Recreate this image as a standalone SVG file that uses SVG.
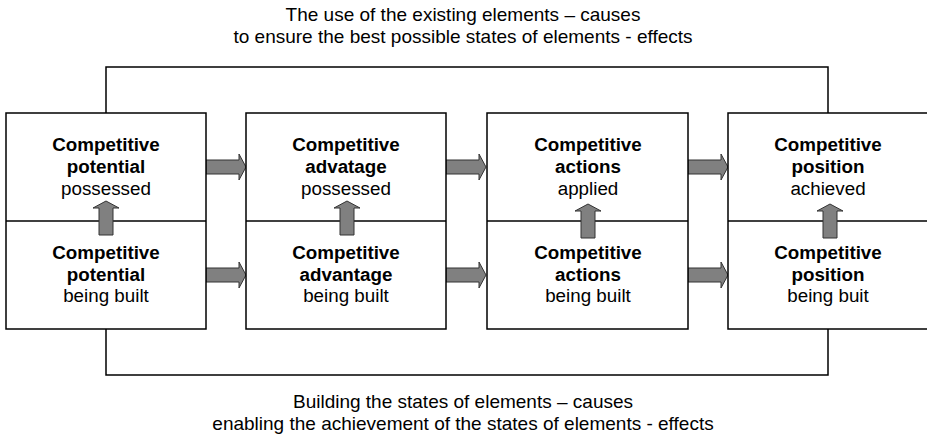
<svg xmlns="http://www.w3.org/2000/svg" xmlns:xlink="http://www.w3.org/1999/xlink" width="927" height="436" viewBox="0 0 927 436">
  <style>
    .box { fill: #ffffff; stroke: #000000; stroke-width: 1.5; }
    .line { fill: none; stroke: #000000; stroke-width: 1.5; }
    .arrow { fill: #808080; stroke: #333333; stroke-width: 1; }
    text { font-family: "Liberation Sans", Arial, sans-serif; fill: #000000; text-anchor: middle; }
    .b { font-size: 18.8px; font-weight: bold; }
    .n { font-size: 18.8px; }
    .cap { font-size: 19px; }
  </style>
  <defs>
    <!-- block arrow pointing right, tail at origin -->
    <path id="arrow-right" class="arrow" d="M0,-7 H33 V-13 L40,0 L33,13 V7 H0 Z"/>
    <!-- block arrow pointing up, tail at origin -->
    <path id="arrow-up" class="arrow" d="M-7,0 V-27 H-13 L0,-34 L13,-27 H7 V0 Z"/>
  </defs>

  <rect width="927" height="436" fill="#ffffff"/>

  <!-- feedback loops -->
  <g id="connectors">
    <polyline class="line" points="106,113 106,67 828,67 828,113"/>
    <polyline class="line" points="106,329 106,375 828,375 828,329"/>
    <use xlink:href="#arrow-right" x="206" y="167"/>
    <use xlink:href="#arrow-right" x="206" y="275"/>
    <use xlink:href="#arrow-right" x="446" y="167"/>
    <use xlink:href="#arrow-right" x="446" y="275"/>
    <use xlink:href="#arrow-right" x="688" y="167"/>
    <use xlink:href="#arrow-right" x="688" y="275"/>
  </g>

  <g id="caption-top">
    <text class="cap" x="463" y="21">The use of the existing elements – causes</text>
    <text class="cap" x="463" y="43">to ensure the best possible states of elements - effects</text>
  </g>

  <g id="node-potential">
    <rect class="box" x="6" y="113" width="200" height="216"/>
    <line class="line" x1="6" y1="221" x2="206" y2="221"/>
    <text class="b" x="106" y="151">Competitive</text>
    <text class="b" x="106" y="173">potential</text>
    <text class="n" x="106" y="195">possessed</text>
    <text class="b" x="106" y="259">Competitive</text>
    <text class="b" x="106" y="281">potential</text>
    <text class="n" x="106" y="302">being built</text>
    <use xlink:href="#arrow-up" x="106" y="235"/>
  </g>

  <g id="node-advantage">
    <rect class="box" x="246" y="113" width="200" height="216"/>
    <line class="line" x1="246" y1="221" x2="446" y2="221"/>
    <text class="b" x="346" y="151">Competitive</text>
    <text class="b" x="346" y="173">advatage</text>
    <text class="n" x="346" y="195">possessed</text>
    <text class="b" x="346" y="259">Competitive</text>
    <text class="b" x="346" y="281">advantage</text>
    <text class="n" x="346" y="302">being built</text>
    <use xlink:href="#arrow-up" x="347" y="235"/>
  </g>

  <g id="node-actions">
    <rect class="box" x="487" y="113" width="201" height="216"/>
    <line class="line" x1="487" y1="221" x2="688" y2="221"/>
    <text class="b" x="588" y="151">Competitive</text>
    <text class="b" x="588" y="173">actions</text>
    <text class="n" x="588" y="195">applied</text>
    <text class="b" x="588" y="259">Competitive</text>
    <text class="b" x="588" y="281">actions</text>
    <text class="n" x="588" y="302">being built</text>
    <use xlink:href="#arrow-up" x="588" y="238"/>
  </g>

  <g id="node-position">
    <rect class="box" x="728" y="113" width="200" height="216"/>
    <line class="line" x1="728" y1="221" x2="928" y2="221"/>
    <text class="b" x="828" y="151">Competitive</text>
    <text class="b" x="828" y="173">position</text>
    <text class="n" x="828" y="195">achieved</text>
    <text class="b" x="828" y="259">Competitive</text>
    <text class="b" x="828" y="281">position</text>
    <text class="n" x="828" y="302">being buit</text>
    <use xlink:href="#arrow-up" x="830" y="238"/>
  </g>

  <g id="caption-bottom">
    <text class="cap" x="463" y="408">Building the states of elements – causes</text>
    <text class="cap" x="463" y="430">enabling the achievement of the states of elements - effects</text>
  </g>
</svg>
